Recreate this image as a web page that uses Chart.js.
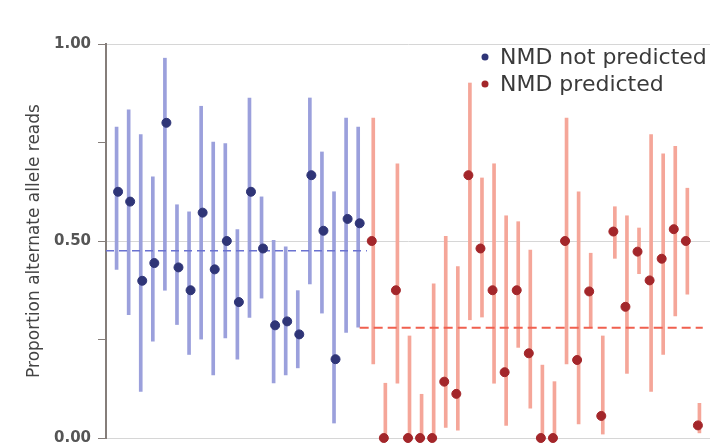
<!DOCTYPE html>
<html>
<head>
<meta charset="utf-8">
<script src="https://cdn.jsdelivr.net/npm/chart.js@4"></script>
<style>
  html, body { margin: 0; padding: 0; background: #ffffff; }
  canvas { display: block; }
</style>
</head>
<body>
<canvas id="allele-chart" width="724" height="448"></canvas>
<script>
// NMD not predicted (blue): point estimate with low / high interval
var blueMid  = [0.625, 0.600, 0.399, 0.444, 0.800, 0.433, 0.375, 0.572, 0.428, 0.500, 0.345, 0.625, 0.481, 0.286, 0.296, 0.263, 0.667, 0.526, 0.200, 0.556, 0.545];
var blueLow  = [0.428, 0.313, 0.118, 0.246, 0.375, 0.288, 0.212, 0.251, 0.160, 0.254, 0.200, 0.306, 0.355, 0.140, 0.160, 0.178, 0.391, 0.317, 0.038, 0.268, 0.281];
var blueHigh = [0.789, 0.833, 0.770, 0.663, 0.964, 0.592, 0.574, 0.842, 0.751, 0.747, 0.529, 0.863, 0.612, 0.502, 0.485, 0.374, 0.863, 0.726, 0.625, 0.812, 0.789];

// NMD predicted (red)
var redMid  = [0.500, 0, 0.375, 0, 0, 0, 0.143, 0.112, 0.667, 0.481, 0.375, 0.167, 0.375, 0.215, 0, 0, 0.500, 0.198, 0.372, 0.056, 0.524, 0.333, 0.473, 0.400, 0.455, 0.530, 0.500, 0.032];
var redLow  = [0.188, 0, 0.139, 0, 0, 0, 0.027, 0.020, 0.300, 0.307, 0.139, 0.032, 0.230, 0.076, 0, 0, 0.188, 0.036, 0.282, 0.010, 0.456, 0.164, 0.417, 0.118, 0.212, 0.310, 0.365, 0.013];
var redHigh = [0.812, 0.139, 0.696, 0.259, 0.111, 0.391, 0.512, 0.435, 0.901, 0.660, 0.696, 0.564, 0.549, 0.477, 0.185, 0.143, 0.812, 0.625, 0.469, 0.259, 0.587, 0.564, 0.533, 0.770, 0.721, 0.740, 0.634, 0.088];

// group means (dashed lines)
var blueMean = 0.475;
var redMean = 0.280;

var seriesLabels = ['NMD not predicted', 'NMD predicted'];
var yTickLabels = [0, 0.5, 1];

var nBlue = blueMid.length;
var nAll = nBlue + redMid.length;

function points(vals, start) {
    return vals.map(function (v, i) { return { x: start + i, y: v }; });
}
function ranges(lo, hi, start) {
    return lo.map(function (v, i) { return { x: start + i, y: [v, hi[i]] }; });
}

var blueDot = '#2f3577', redDot = '#a3262a';

var legendPlugin = {
    id: 'insideLegend',
    afterDraw: function (chart) {
        var ctx = chart.ctx;
        var cols = [blueDot, redDot];
        ctx.save();
        ctx.font = '22px "DejaVu Sans"';
        ctx.textBaseline = 'middle';
        ctx.textAlign = 'left';
        seriesLabels.forEach(function (lab, i) {
            var y = 57 + i * 27;
            ctx.fillStyle = cols[i];
            ctx.beginPath();
            ctx.arc(485, y, 3.5, 0, Math.PI * 2);
            ctx.fill();
            ctx.fillStyle = '#3a3a3a';
            ctx.fillText(lab, 500, y + 1);
        });
        ctx.restore();
    }
};

var alleleCtx = document.getElementById('allele-chart');

var alleleChart = new Chart(alleleCtx, {
    type: 'bar',
    data: {
        datasets: [
            {
                type: 'scatter',
                label: seriesLabels[0],
                data: points(blueMid, 0),
                backgroundColor: blueDot,
                borderColor: blueDot,
                pointRadius: 4.5,
                order: 0,
                clip: false
            },
            {
                type: 'scatter',
                label: seriesLabels[1],
                data: points(redMid, nBlue),
                backgroundColor: redDot,
                borderColor: redDot,
                pointRadius: 4.5,
                order: 0,
                clip: false
            },
            {
                type: 'line',
                label: 'blue mean',
                data: [{ x: -1, y: blueMean }, { x: nBlue - 0.4, y: blueMean }],
                borderColor: '#6a72d0',
                borderWidth: 1.5,
                borderDash: [8, 5],
                pointRadius: 0,
                order: 1
            },
            {
                type: 'line',
                label: 'red mean',
                data: [{ x: nBlue - 1, y: redMean }, { x: nAll - 0.6, y: redMean }],
                borderColor: '#f0604f',
                borderWidth: 2,
                borderDash: [9, 5],
                pointRadius: 0,
                order: 1
            },
            {
                label: 'blue interval',
                data: ranges(blueLow, blueHigh, 0),
                backgroundColor: '#9ba0dc',
                barThickness: 3,
                order: 2
            },
            {
                label: 'red interval',
                data: ranges(redLow, redHigh, nBlue),
                backgroundColor: '#f5a699',
                barThickness: 3,
                order: 2
            }
        ]
    },
    options: {
        responsive: false,
        animation: false,
        layout: { padding: { left: 0, right: 14, top: 44, bottom: 10 } },
        plugins: {
            legend: { display: false },
            tooltip: { enabled: false }
        },
        scales: {
            x: {
                type: 'linear',
                min: -1,
                max: nAll,
                offset: false,
                display: false
            },
            y: {
                min: 0,
                max: 1,
                afterFit: function (s) {
                    s.width = 106;
                    s.paddingTop = 0;
                    s.paddingBottom = 0;
                },
                border: { display: true, color: '#857e7a', width: 2 },
                grid: {
                    color: function (c) {
                        return yTickLabels.indexOf(c.tick.value) >= 0 ? '#d6d6d6' : 'rgba(0,0,0,0)';
                    },
                    tickColor: '#857e7a',
                    tickLength: 8,
                    lineWidth: 1
                },
                ticks: {
                    stepSize: 0.25,
                    padding: 7,
                    color: '#555555',
                    font: { family: '"DejaVu Sans"', size: 15, weight: 'bold' },
                    callback: function (v) {
                        return yTickLabels.indexOf(v) >= 0 ? v.toFixed(2) : '';
                    }
                },
                title: {
                    display: true,
                    text: 'Proportion alternate allele reads',
                    color: '#444444',
                    font: { family: '"DejaVu Sans"', size: 17 },
                    padding: { top: 24, bottom: 0 }
                }
            }
        }
    },
    plugins: [legendPlugin]
});
</script>
</body>
</html>
